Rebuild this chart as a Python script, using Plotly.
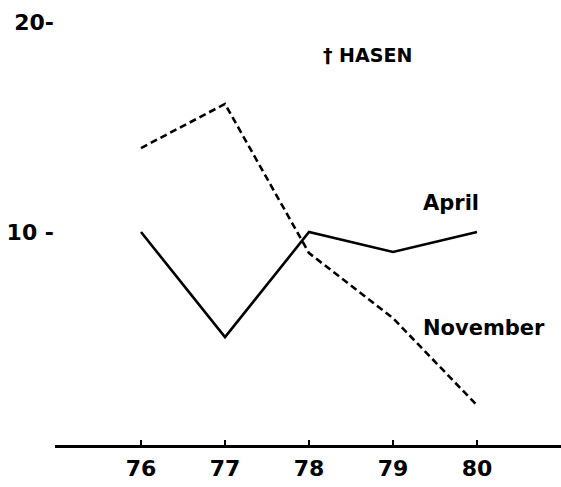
import plotly.graph_objects as go

years = [76, 77, 78, 79, 80]
april = [10.0, 5.0, 10.0, 9.05, 10.0]
november = [14.0, 16.1, 9.0, 5.9, 1.75]
x_tick_labels = ["76", "77", "78", "79", "80"]
y_tick_vals = [10, 20]
y_tick_labels = ["10 -", "20-"]

FONT = "DejaVu Sans"

fig = go.Figure()
fig.add_trace(go.Scatter(x=years, y=april, mode="lines", name="April",
                         line=dict(color="black", width=2.6), hoverinfo="skip"))
fig.add_trace(go.Scatter(x=years, y=november, mode="lines", name="November",
                         line=dict(color="black", width=2.6, dash="7px,4px"),
                         hoverinfo="skip"))

fig.add_annotation(x=79.33, y=11.4, text="<b>April</b>", showarrow=False,
                   xanchor="left", yanchor="middle",
                   font=dict(family=FONT, size=21, color="black"))
fig.add_annotation(x=79.33, y=5.43, text="<b>November</b>", showarrow=False,
                   xanchor="left", yanchor="middle",
                   font=dict(family=FONT, size=21, color="black"))
fig.add_annotation(x=78.7, y=18.45, text="<b>† HASEN</b>", showarrow=False,
                   xanchor="center", yanchor="middle",
                   font=dict(family=FONT, size=19, color="black"))

fig.update_layout(
    width=561, height=487,
    margin=dict(l=55, r=0, t=0, b=42),
    paper_bgcolor="white", plot_bgcolor="white",
    showlegend=False,
    xaxis=dict(range=[74.976, 81], tickvals=years, ticktext=x_tick_labels,
               showgrid=False, zeroline=False, showline=True, automargin=False,
               linecolor="black", linewidth=3,
               ticks="inside", ticklen=5, tickwidth=1.5, tickcolor="black",
               ticklabelstandoff=2,
               tickfont=dict(family=FONT, size=22, color="black", weight="bold")),
    yaxis=dict(range=[-0.14, 21.05], tickvals=y_tick_vals, ticktext=y_tick_labels,
               showgrid=False, zeroline=False, showline=False, ticks="",
               automargin=False, ticklabelstandoff=0,
               tickfont=dict(family=FONT, size=22, color="black", weight="bold")),
)

fig.write_html("out.html",
               config={"displayModeBar": False},
               post_script="document.body.style.margin='0';document.body.style.overflow='hidden';")
